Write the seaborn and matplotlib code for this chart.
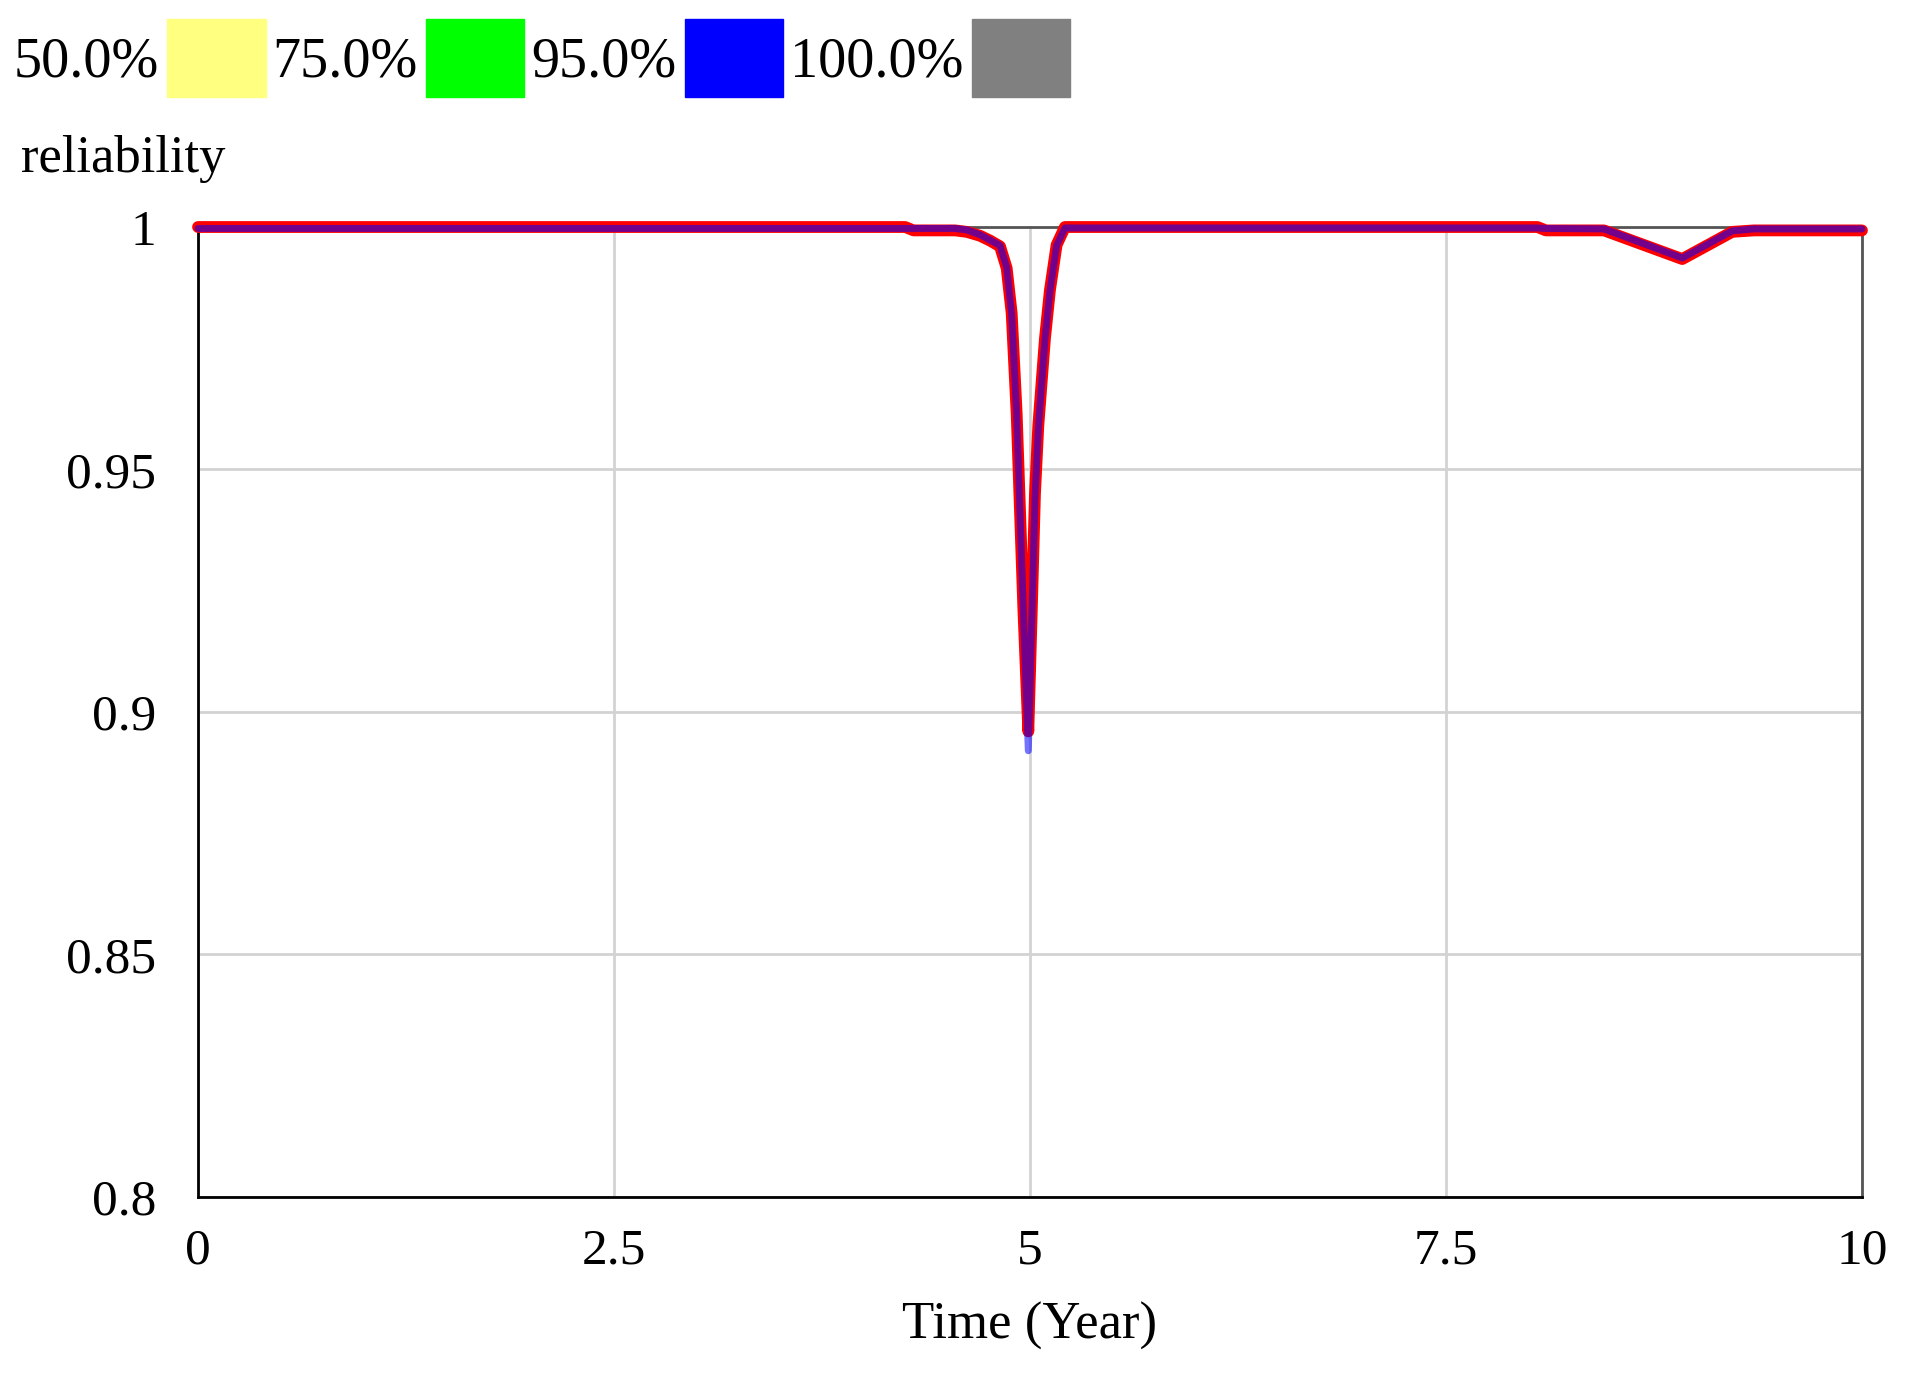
import matplotlib
matplotlib.use("Agg")
import matplotlib.pyplot as plt
import seaborn as sns
import pandas as pd
from matplotlib.patches import Patch

# Sensitivity run: reliability over time
time = [0, 4.25, 4.30, 4.55, 4.62, 4.70, 4.76, 4.82, 4.86, 4.89, 4.92, 4.94,
        4.96, 4.99, 5.01, 5.03, 5.05, 5.09, 5.12, 5.16, 5.21, 8.05, 8.10,
        8.45, 8.92, 9.22, 9.35, 10]
base_run = [1.0, 1.0, 0.9993, 0.9993, 0.9990, 0.9982, 0.9972, 0.9960, 0.9915,
            0.9822, 0.9615, 0.9415, 0.9215, 0.8960, 0.9200, 0.9450, 0.9590,
            0.9770, 0.9870, 0.9963, 1.0, 1.0, 0.9993, 0.9993, 0.9934, 0.9990,
            0.9993, 0.9993]
bound_run = [0.9997, 0.9997, 0.9997, 0.9997, 0.9994, 0.9984, 0.9973, 0.9962,
             0.9917, 0.9820, 0.9613, 0.9412, 0.9212, 0.8920, 0.9180, 0.9440,
             0.9585, 0.9768, 0.9868, 0.9962, 0.9998, 0.9998, 0.9997, 0.9996,
             0.9936, 0.9992, 0.9996, 0.9996]

legend_labels = ["50.0%", "75.0%", "95.0%", "100.0%"]
legend_colors = ["#FFFF80", "#00FF00", "#0000FF", "#808080"]

y_ticks = [0.8, 0.85, 0.9, 0.95, 1.0]
y_tick_labels = ["0.8", "0.85", "0.9", "0.95", "1"]
x_ticks = [0, 2.5, 5, 7.5, 10]
x_tick_labels = ["0", "2.5", "5", "7.5", "10"]

df = pd.DataFrame({"time": time, "base": base_run, "bound": bound_run})

sns.set_style("white")
plt.rcParams["font.family"] = ["Liberation Serif", "DejaVu Serif"]
plt.rcParams["text.color"] = "black"

fig = plt.figure(figsize=(19.15, 13.91), dpi=100)
ax = fig.add_axes([0.1034, 0.1395, 0.8689, 0.6973])

sns.lineplot(data=df, x="time", y="base", color="#FF0000", linewidth=8.5,
             estimator=None, sort=False, ax=ax, zorder=3)
sns.lineplot(data=df, x="time", y="bound", color="#0000FF", linewidth=5,
             alpha=0.55, estimator=None, sort=False, ax=ax, zorder=4)
for line in ax.lines:
    line.set_clip_on(False)

ax.set_xlim(0, 10)
ax.set_ylim(0.8, 1.0)
ax.set_xticks(x_ticks)
ax.set_xticklabels(x_tick_labels)
ax.set_yticks(y_ticks)
ax.set_yticklabels(y_tick_labels)
ax.tick_params(axis="both", length=0, labelsize=37, colors="black")
ax.tick_params(axis="y", pad=30)
ax.tick_params(axis="x", pad=22)

ax.grid(True, color="#D3D3D3", linewidth=2)
ax.set_axisbelow(True)
for side in ["left", "bottom"]:
    ax.spines[side].set_color("black")
    ax.spines[side].set_linewidth(2)
for side in ["top", "right"]:
    ax.spines[side].set_color("#555555")
    ax.spines[side].set_linewidth(2)
    ax.spines[side].set_zorder(2)

ax.set_xlabel("Time (Year)", fontsize=38, labelpad=20, color="black")
ax.set_ylabel("")

handles = [Patch(facecolor=c, edgecolor=c) for c in legend_colors]
fig.legend(handles, legend_labels, loc="upper left",
           bbox_to_anchor=(0.007, 0.986), ncol=4, markerfirst=False,
           frameon=False, fontsize=40.5, handlelength=1.75, handleheight=1.75,
           handletextpad=0.15, columnspacing=0.12, borderpad=0,
           borderaxespad=0)

fig.text(0.011, 0.886, "reliability", fontsize=38, va="center", ha="left",
         color="black")

fig.savefig("out.png", dpi=100)
